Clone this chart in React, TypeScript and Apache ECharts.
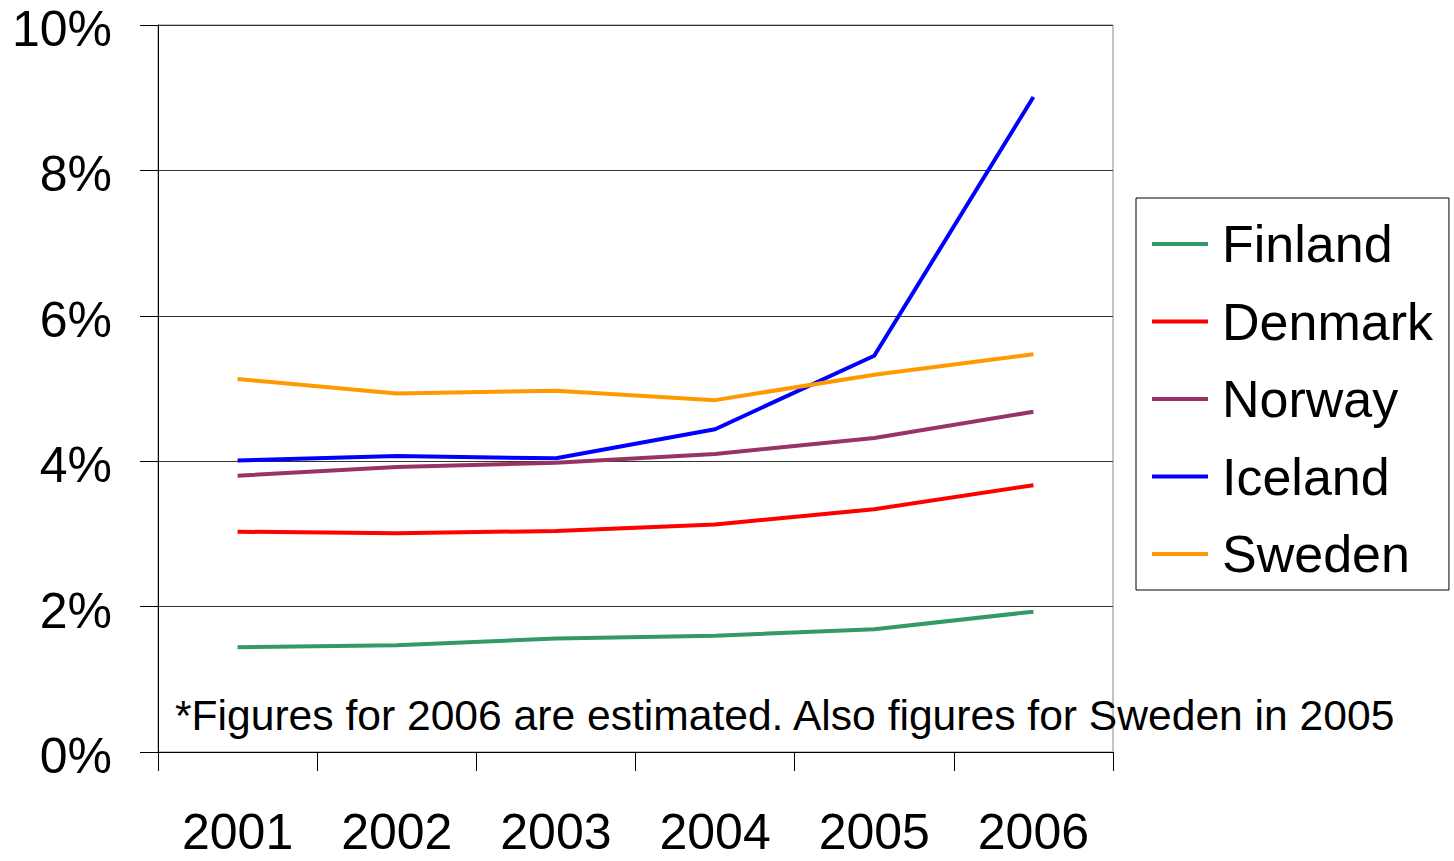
import React, { useEffect, useRef } from "react";
import * as echarts from "echarts";

const years = ["2001", "2002", "2003", "2004", "2005", "2006"];
const finland = [1.44, 1.47, 1.56, 1.6, 1.69, 1.93];
const denmark = [3.03, 3.01, 3.04, 3.13, 3.34, 3.67];
const norway = [3.8, 3.92, 3.98, 4.1, 4.32, 4.68];
const iceland = [4.01, 4.07, 4.04, 4.44, 5.45, 9.01];
const sweden = [5.13, 4.93, 4.97, 4.84, 5.19, 5.47];
const footnote = "*Figures for 2006 are estimated. Also figures for Sweden in 2005";

const FONT = "'Liberation Sans', Arial, sans-serif";

export default function App() {
  const ref = useRef<HTMLDivElement>(null);
  useEffect(() => {
    if (!ref.current) return;
    const chart = echarts.init(ref.current, undefined, { renderer: "svg" });
    const mk = (name: string, data: number[], color: string) => ({
      name,
      type: "line",
      data,
      symbol: "none",
      lineStyle: { color, width: 4 },
      itemStyle: { color },
    });
    chart.setOption({
      animation: false,
      backgroundColor: "#fff",
      textStyle: { fontFamily: FONT },
      grid: {
        left: 158,
        top: 25,
        right: 341,
        bottom: 109,
        show: true,
        borderColor: "#888",
        borderWidth: 1,
        outerBoundsMode: "none",
        containLabel: false,
      },
      legend: {
        orient: "vertical",
        left: 1136,
        top: 198,
        padding: [18, 16, 8, 16],
        itemGap: 21.5,
        itemWidth: 56,
        itemHeight: 4,
        icon: "rect",
        borderColor: "#000",
        borderWidth: 1,
        textStyle: {
          fontSize: 52,
          lineHeight: 56,
          color: "#000",
          fontFamily: FONT,
          padding: [0, 0, 0, 9],
        },
        data: ["Finland", "Denmark", "Norway", "Iceland", "Sweden"],
      },
      xAxis: {
        type: "category",
        data: years,
        boundaryGap: true,
        axisLine: { lineStyle: { color: "#000", width: 1 } },
        axisTick: { show: true, length: 19, lineStyle: { color: "#000" } },
        axisLabel: {
          fontSize: 50,
          color: "#000",
          margin: 60,
          lineHeight: 40,
          fontFamily: FONT,
        },
        splitLine: { show: false },
      },
      yAxis: {
        type: "value",
        min: 0,
        max: 10,
        interval: 2,
        axisLine: { show: true, lineStyle: { color: "#000", width: 1 } },
        axisTick: { show: true, length: 18, lineStyle: { color: "#000" } },
        axisLabel: {
          fontSize: 50,
          color: "#000",
          margin: 46,
          formatter: "{value}%",
          fontFamily: FONT,
          verticalAlign: "top",
          lineHeight: 8,
        },
        splitLine: { show: true, lineStyle: { color: "#333", width: 1 } },
      },
      graphic: [
        {
          type: "text",
          left: 175,
          top: 693,
          style: {
            text: footnote,
            fontSize: 42.6,
            fill: "#000",
            fontFamily: FONT,
          },
          z: 10,
        },
      ],
      series: [
        mk("Finland", finland, "#339966"),
        mk("Denmark", denmark, "#FF0000"),
        mk("Norway", norway, "#993366"),
        mk("Iceland", iceland, "#0000FF"),
        mk("Sweden", sweden, "#FF9900"),
      ],
    });
    return () => chart.dispose();
  }, []);
  return (
    <div
      ref={ref}
      style={{ position: "fixed", left: 0, top: 0, width: 1454, height: 861 }}
    />
  );
}
